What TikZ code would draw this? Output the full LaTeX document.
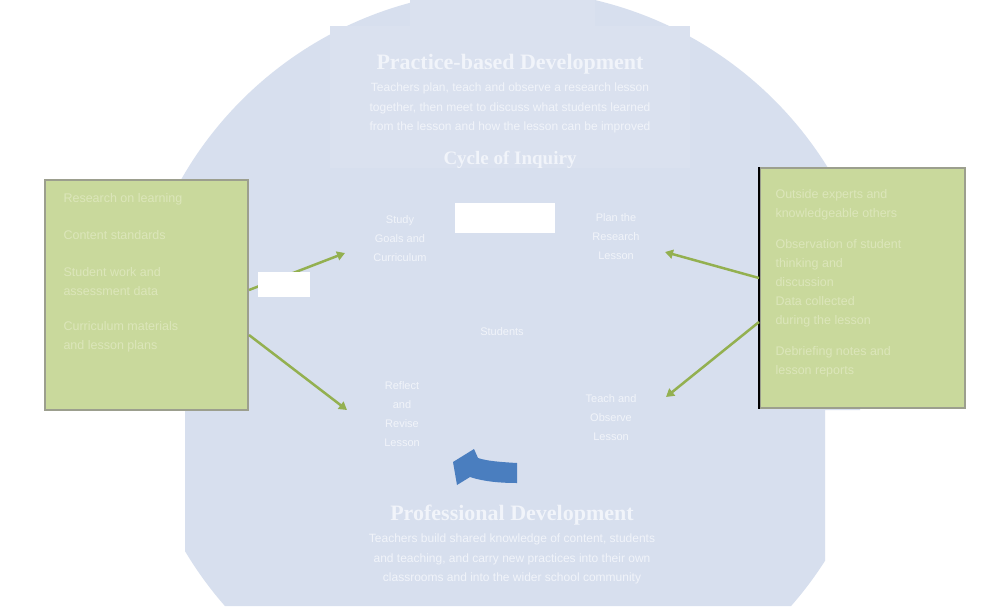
\documentclass[tikz,border=0pt]{standalone}
\usepackage{fontspec}
\setmainfont{Liberation Serif}
\setsansfont{Liberation Sans}
\usetikzlibrary{arrows.meta,positioning}

\definecolor{cyclebg}{HTML}{D7DFEE}
\definecolor{headbg}{HTML}{DAE1EF}
\definecolor{notegreen}{HTML}{C9D99C}
\definecolor{noteline}{HTML}{9C9F8E}
\definecolor{pointgreen}{HTML}{93B050}
\definecolor{turnblue}{HTML}{4A7EBF}
\definecolor{faint}{HTML}{F1F4FA}
\definecolor{faintg}{HTML}{DCE6BA}

\begin{document}
\begin{tikzpicture}[x=1pt,y=-1pt]

\tikzset{heading/.style={text=faint,font=\fontsize{22}{24}\selectfont\bfseries},
  blurb/.style={text=faint,font=\sffamily\fontsize{12}{19.5}\selectfont,align=center},
  stage/.style={text=faint,font=\sffamily\fontsize{11}{19}\selectfont,align=center},
  note/.style={fill=notegreen,draw=noteline,line width=2pt,inner sep=0pt},
  notetext/.style={text=faintg,font=\sffamily\fontsize{12.5}{19}\selectfont,align=left,anchor=north west},
  pointer/.style={draw=pointgreen,line width=2.5pt,-{Triangle[length=8pt,width=9pt]}},
  blank/.style={fill=white,inner sep=0pt}}

\useasboundingbox (0,0) rectangle (1004,606);
\fill[white] (0,0) rectangle (1004,606);

% the cycle
\begin{scope}
  \clip (140,0) rectangle (860,410) (185,410) rectangle (825,606);
  \fill[cyclebg] (508,362) ellipse [x radius=375, y radius=372];
\end{scope}
\fill[headbg] (410,0) rectangle (595,26);
\fill[headbg] (330,26) rectangle (690,168);

\node[heading] (tophead) at (510,64) {Practice-based Development};
\node[blurb,below=2pt of tophead] (topblurb) {Teachers plan, teach and observe a research lesson\\
  together, then meet to discuss what students learned\\
  from the lesson and how the lesson can be improved};
\node[heading,font=\fontsize{19}{21}\selectfont\bfseries] (inquiry) at (510,160) {Cycle of Inquiry};

\node[stage] (study) at (400,239) {Study\\Goals and\\Curriculum};
\node[stage] (plan) at (616,237) {Plan the\\Research\\Lesson};
\node[stage] (centre) at (502,332) {Students};
\node[stage] (reflect) at (402,414) {Reflect\\and\\Revise\\Lesson};
\node[stage] (teach) at (611,418) {Teach and\\Observe\\Lesson};

\node[heading] (bothead) at (512,515) {Professional Development};
\node[blurb,below=2pt of bothead] (botblurb) {Teachers build shared knowledge of content, students\\
  and teaching, and carry new practices into their own\\
  classrooms and into the wider school community};

% the turn of the cycle
\fill[turnblue] (517,463) .. controls (500,462) and (487,461) .. (478,458) -- (474,449)
  -- (453,462) -- (457,485) -- (470,477) .. controls (485,482) and (503,483) .. (517,483) -- cycle;

% sources of knowledge
\node[note,minimum width=203pt,minimum height=230pt] (sources) at (146.5,295) {};
\node[notetext] (srclist) at (60,190) {Research on learning\\[18pt]
  Content standards\\[18pt]
  Student work and\\assessment data\\[16pt]
  Curriculum materials\\and lesson plans};

\node[note,minimum width=205pt,minimum height=240pt] (evidence) at (862.5,288) {};
\draw[black,line width=2.5pt] (evidence.north west) -- (evidence.south west);
\node[notetext] (evlist) at (772,186) {Outside experts and\\knowledgeable others\\[12pt]
  Observation of student\\thinking and\\discussion\\
  Data collected\\during the lesson\\[12pt]
  Debriefing notes and\\lesson reports};

\coordinate (studyin) at (345,253);
\coordinate (reflectin) at (347,410);
\coordinate (planin) at (665,252);
\coordinate (teachin) at (666,397);

\draw[pointer] (sources.east |- 0,290) -- (studyin);
\draw[pointer] (sources.east |- 0,335) -- (reflectin);
\draw[pointer] (evidence.west |- 0,278) -- (planin);
\draw[pointer] (evidence.west |- 0,322) -- (teachin);

\node[blank,minimum width=100pt,minimum height=30pt] (gaptop) at (505,218) {};
\node[blank,minimum width=52pt,minimum height=25pt] (gapleft) at (284,284.5) {};

\end{tikzpicture}
\end{document}
